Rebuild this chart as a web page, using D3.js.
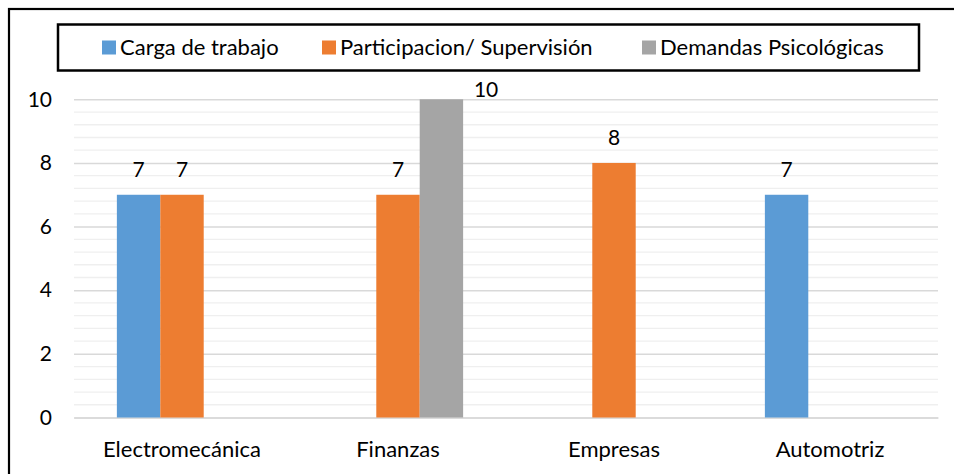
<!DOCTYPE html>
<html>
<head>
<meta charset="utf-8">
<script src="https://cdn.jsdelivr.net/npm/d3@7/dist/d3.min.js"></script>
<style>
  html, body { margin: 0; padding: 0; background: #fff; }
  svg { display: block; font-family: Lato, "Open Sans", sans-serif; }
</style>
</head>
<body>
<svg id="chart" width="954" height="474"></svg>
<script>
// Areas and series
const categories = ["Electromecánica", "Finanzas", "Empresas", "Automotriz"];
const seriesNames = ["Carga de trabajo", "Participacion/ Supervisión", "Demandas Psicológicas"];
const seriesColors = ["#5B9BD5", "#ED7D31", "#A5A5A5"];
// null = no bar for that area
const cargaTrabajo = [7, null, null, 7];
const participacion = [7, 7, 8, null];
const demandas = [null, 10, null, null];
const yTicks = [0, 2, 4, 6, 8, 10];

const seriesValues = [cargaTrabajo, participacion, demandas];

const svg = d3.select("#chart");
const W = 954, H = 474;
const plot = { left: 74, right: 938, top: 99.3, bottom: 417.5 };
const textSize = 22;
const numSize = 21;

// chart frame
svg.append("rect")
  .attr("x", 9).attr("y", 9)
  .attr("width", W + 20).attr("height", H + 20)
  .attr("fill", "#fff").attr("stroke", "#000").attr("stroke-width", 2.2);

const y = d3.scaleLinear().domain([0, 10]).range([plot.bottom, plot.top]);
const x = d3.scaleBand().domain(categories).range([plot.left, plot.right]).padding(0);
const groupW = x.bandwidth() * 0.603;
const xs = d3.scaleBand().domain(d3.range(seriesNames.length))
  .range([(x.bandwidth() - groupW) / 2, (x.bandwidth() + groupW) / 2]).padding(0);

// minor grid
const minor = d3.range(0, 10.001, 0.4).filter(v => Math.abs(v / 2 - Math.round(v / 2)) > 1e-6);
svg.append("g").selectAll("line").data(minor).join("line")
  .attr("x1", plot.left).attr("x2", plot.right)
  .attr("y1", d => y(d)).attr("y2", d => y(d))
  .attr("stroke", "#efefef").attr("stroke-width", 1.3);

// major grid + y axis labels
const yAxis = d3.axisLeft(y).tickValues(yTicks).tickSize(-(plot.right - plot.left)).tickPadding(22).tickFormat(d3.format("d"));
const gy = svg.append("g").attr("transform", `translate(${plot.left},0)`).call(yAxis);
gy.select(".domain").remove();
gy.selectAll(".tick line").attr("stroke", "#d9d9d9").attr("stroke-width", 1.5);
gy.selectAll(".tick text").attr("font-size", numSize).attr("fill", "#000")
  .attr("font-family", "Lato, sans-serif");

// x axis labels
const xAxis = d3.axisBottom(x).tickSize(0).tickPadding(24);
const gx = svg.append("g").attr("transform", `translate(0,${plot.bottom})`).call(xAxis);
gx.select(".domain").attr("stroke", "#d9d9d9").attr("stroke-width", 1.5);
gx.selectAll(".tick text").attr("font-size", textSize).attr("fill", "#000")
  .attr("font-family", "Lato, sans-serif");

// bars
const bars = [];
categories.forEach((c, ci) => {
  seriesValues.forEach((vals, si) => {
    if (vals[ci] != null) bars.push({ c, si, v: vals[ci] });
  });
});
const gb = svg.append("g");
gb.selectAll("rect").data(bars).join("rect")
  .attr("x", d => x(d.c) + xs(d.si))
  .attr("width", xs.bandwidth())
  .attr("y", d => y(d.v))
  .attr("height", d => y(0) - y(d.v))
  .attr("fill", d => seriesColors[d.si]);

// value labels
gb.selectAll("text").data(bars).join("text")
  .attr("font-size", numSize).attr("fill", "#000")
  .attr("text-anchor", "middle")
  .each(function (d) {
    let cx = x(d.c) + xs(d.si) + xs.bandwidth() / 2;
    let by = y(d.v) - 18;
    if (by - 14 < plot.top - 20) {
      // no room above the plot top: sit beside the bar
      cx = x(d.c) + xs(d.si) + xs.bandwidth() + 23;
      by = plot.top - 2.6;
    }
    d3.select(this).attr("x", cx).attr("y", by);
  })
  .text(d => d.v);

// legend
const lg = svg.append("g");
lg.append("rect").attr("x", 58).attr("y", 24.5).attr("width", 861).attr("height", 46)
  .attr("fill", "#fff").attr("stroke", "#000").attr("stroke-width", 2.5);
const legendX = [102, 322, 642];
seriesNames.forEach((n, i) => {
  lg.append("rect").attr("x", legendX[i]).attr("y", 40.5).attr("width", 14).attr("height", 14)
    .attr("fill", seriesColors[i]);
  lg.append("text").attr("x", legendX[i] + 18).attr("y", 55)
    .attr("font-size", textSize).attr("fill", "#000").text(n);
});
</script>
</body>
</html>
